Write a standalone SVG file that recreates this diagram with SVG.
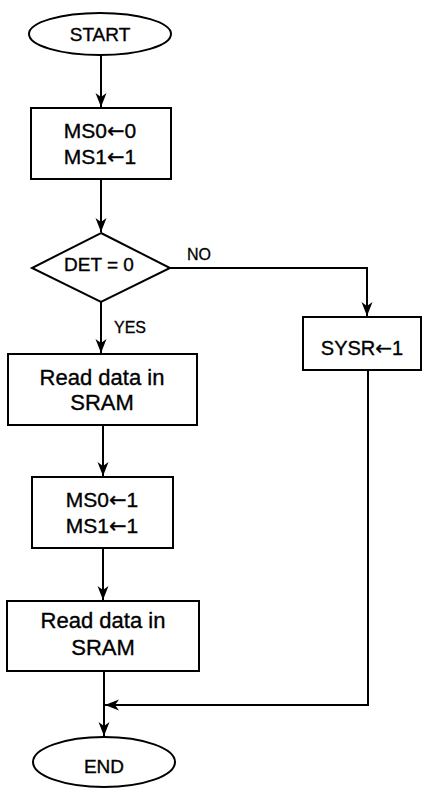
<svg xmlns="http://www.w3.org/2000/svg" width="424" height="789" viewBox="0 0 424 789">
<style>
.s{fill:#fff;stroke:#000;stroke-width:2}
.t{font-family:"Liberation Sans",Arial,sans-serif;fill:#000;stroke:#000;stroke-width:0.35;text-anchor:middle}
.a{font-family:"DejaVu Sans",sans-serif}
.c{fill:none;stroke:#000;stroke-width:2}
.l{font-family:"Liberation Sans",Arial,sans-serif;fill:#000;stroke:#000;stroke-width:0.3;font-size:16px}
</style>
<defs>
<marker id="ah" markerUnits="userSpaceOnUse" markerWidth="16" markerHeight="12" refX="14" refY="6" orient="auto">
<path d="M0,0.5 L14,6 L0,11.5 L4,6 z" fill="#000"/>
</marker>
</defs>
<rect width="424" height="789" fill="#fff"/>
<g id="connectors">
<line class="c" x1="101" y1="55" x2="101" y2="107" marker-end="url(#ah)"/>
<line class="c" x1="101" y1="179" x2="101" y2="232" marker-end="url(#ah)"/>
<polyline class="c" points="170,268 367,268 367,316" marker-end="url(#ah)"/>
<line class="c" x1="101" y1="302" x2="101" y2="353" marker-end="url(#ah)"/>
<line class="c" x1="103" y1="425" x2="103" y2="476" marker-end="url(#ah)"/>
<line class="c" x1="103" y1="548" x2="103" y2="600" marker-end="url(#ah)"/>
<line class="c" x1="104" y1="671" x2="104" y2="736" marker-end="url(#ah)"/>
<polyline class="c" points="368,370 368,705 105,705" marker-end="url(#ah)"/>
<text class="l" x="187" y="260">NO</text>
<text class="l" x="114" y="333">YES</text>
</g>
<g id="start">
<ellipse class="s" cx="100" cy="34" rx="71" ry="21"/>
<text class="t" x="100" y="41" font-size="19">START</text>
</g>
<g id="init">
<rect class="s" x="31" y="108" width="140" height="71"/>
<text class="t" x="100" y="138" font-size="21">MS0<tspan class="a">←</tspan>0</text>
<text class="t" x="100" y="164" font-size="21">MS1<tspan class="a">←</tspan>1</text>
</g>
<g id="det">
<polygon class="s" points="101,233 170,268 101,302 32,268"/>
<text class="t" x="99" y="271" font-size="19">DET = 0</text>
</g>
<g id="sysr">
<rect class="s" x="303" y="317" width="118" height="53"/>
<text class="t" x="362" y="355" font-size="20">SYSR<tspan class="a">←</tspan>1</text>
</g>
<g id="read1">
<rect class="s" x="8" y="354" width="189" height="71"/>
<text class="t" x="102" y="385" font-size="22">Read data in</text>
<text class="t" x="102" y="410" font-size="22">SRAM</text>
</g>
<g id="set">
<rect class="s" x="32" y="477" width="141" height="71"/>
<text class="t" x="102" y="507" font-size="21">MS0<tspan class="a">←</tspan>1</text>
<text class="t" x="102" y="533" font-size="21">MS1<tspan class="a">←</tspan>1</text>
</g>
<g id="read2">
<rect class="s" x="7" y="601" width="192" height="70"/>
<text class="t" x="103" y="628" font-size="22">Read data in</text>
<text class="t" x="103" y="655" font-size="22">SRAM</text>
</g>
<g id="end">
<ellipse class="s" cx="104" cy="762" rx="71" ry="25"/>
<text class="t" x="104" y="773" font-size="19">END</text>
</g>
</svg>
